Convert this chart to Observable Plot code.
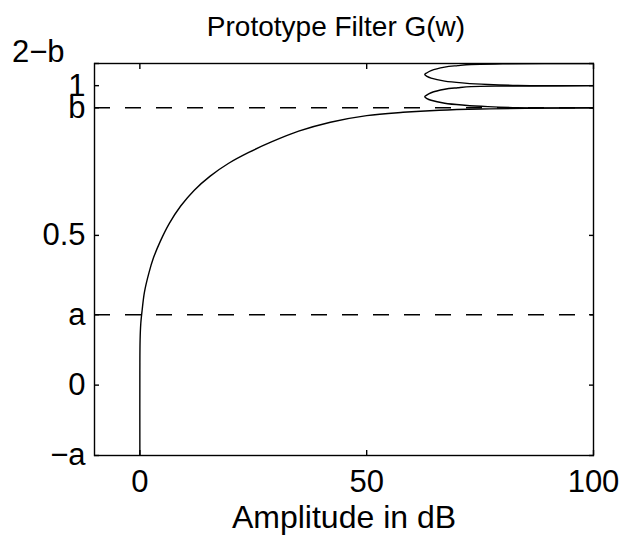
<!DOCTYPE html>
<html><head><meta charset="utf-8">
<script src="https://cdn.jsdelivr.net/npm/d3@7"></script>
<script src="https://cdn.jsdelivr.net/npm/@observablehq/plot@0.6"></script>
<style>
body{margin:0;background:#fff;font-family:"Liberation Sans",Arial,sans-serif;overflow:hidden;}
#title{height:45px;width:619px;position:relative;}
#title span{position:absolute;left:336px;top:13px;transform:translateX(-50%);font-size:28px;line-height:1;white-space:nowrap;color:#000;}
svg{overflow:visible;}
</style></head><body>
<div id="title"><span>Prototype Filter G(w)</span></div>
<div id="chart"></div>
<script>
// constants of the chart
const aVal = 0.235;
const bVal = 0.926;
const topVal = 2 - bVal;

// tick values and labels
const xTicks = [0, 50, 100];
const yTickValues = [-aVal, 0, aVal, 0.5, bVal, 1];
const yTickLabels = ["−a", "0", "a", "0.5", "b", "1"];
const topTickLabel = "2−b";
const xLabel = "Amplitude in dB";

// main curve
const mainX = [0, 0, 0.05, 0.2, 0.5, 1.0, 2.0, 3.0, 4.5, 6.5, 9, 12, 15.5, 19.5, 24, 29, 35, 42, 50, 58, 66, 75, 85, 100];
const mainY = [-0.235, 0.05, 0.15, 0.205, 0.25, 0.31, 0.375, 0.425, 0.48, 0.54, 0.598, 0.651, 0.698, 0.74, 0.777, 0.812, 0.848, 0.878, 0.900, 0.911, 0.918, 0.922, 0.924, 0.926];

// ripple loop between 1 and 2-b
const upperLoopX = [100, 80, 73.0, 70.1, 67.2, 64.2, 63.3, 62.8, 63.3, 64.2, 67.2, 71.6, 76.7, 83.3, 100];
const upperLoopY = [1.074, 1.0728, 1.0708, 1.067, 1.062, 1.0504, 1.043, 1.037, 1.031, 1.0253, 1.0153, 1.0086, 1.0039, 1.0006, 1.0];

// ripple loop between b and 1
const lowerLoopX = [100, 80, 73.0, 70.1, 67.2, 64.2, 63.3, 62.8, 63.3, 64.2, 67.2, 71.6, 76.7, 83.3, 100];
const lowerLoopY = [1.0, 0.9988, 0.9968, 0.993, 0.988, 0.9764, 0.969, 0.963, 0.957, 0.9513, 0.9413, 0.9346, 0.9299, 0.9266, 0.926];

const main = mainX.map((x, i) => ({x, y: mainY[i]}));
const loops = [
  ...upperLoopX.map((x, i) => ({x, y: upperLoopY[i], s: "upper"})),
  ...lowerLoopX.map((x, i) => ({x, y: lowerLoopY[i], s: "lower"}))
];
const labelMap = new Map(yTickValues.map((v, i) => [v, yTickLabels[i]]));
const allYTicks = [...yTickValues, topVal];

const sw = 1.4;
const tickFont = 31;
const chart = Plot.plot({
  width: 619,
  height: 490,
  marginTop: 18,
  marginBottom: 80,
  marginLeft: 94,
  marginRight: 26,
  style: {fontFamily: '"Liberation Sans", Arial, sans-serif', fontSize: "28px", color: "#000", background: "#fff", overflow: "visible"},
  x: {domain: [-10, 100], label: null},
  y: {domain: [-aVal, topVal], label: null},
  marks: [
    Plot.ruleY([aVal, bVal], {stroke: "#000", strokeWidth: sw, strokeDasharray: "16,15"}),
    Plot.line(main, {x: "x", y: "y", curve: "catmull-rom", stroke: "#000", strokeWidth: sw, clip: true}),
    Plot.line(loops, {x: "x", y: "y", z: "s", curve: "catmull-rom", stroke: "#000", strokeWidth: sw, clip: true}),
    Plot.frame({stroke: "#000", strokeWidth: sw}),
    // inward tick marks on all four sides
    Plot.axisY(allYTicks, {anchor: "left", tickSize: -5, tickFormat: () => "", label: null, strokeWidth: sw}),
    Plot.axisY(allYTicks, {anchor: "right", tickSize: -5, tickFormat: () => "", label: null, strokeWidth: sw}),
    Plot.axisX(xTicks, {anchor: "bottom", tickSize: -5, tickFormat: () => "", label: null, strokeWidth: sw}),
    Plot.axisX(xTicks, {anchor: "top", tickSize: -5, tickFormat: () => "", label: null, strokeWidth: sw}),
    // tick labels
    Plot.axisY(yTickValues, {anchor: "left", tickSize: 0, tickPadding: 9, tickFormat: d => labelMap.get(d), label: null, fontSize: tickFont}),
    Plot.axisY([topVal], {anchor: "left", tickSize: 0, tickPadding: 30, dy: -11, tickFormat: () => topTickLabel, label: null, fontSize: tickFont}),
    Plot.axisX(xTicks, {anchor: "bottom", tickSize: 0, tickPadding: 14, tickFormat: d => String(d), label: null, fontSize: tickFont}),
    Plot.text([xLabel], {text: d => d, frameAnchor: "bottom", dy: 72, fontSize: 32, fill: "#000"})
  ]
});
document.getElementById("chart").appendChild(chart);
</script>
</body></html>
